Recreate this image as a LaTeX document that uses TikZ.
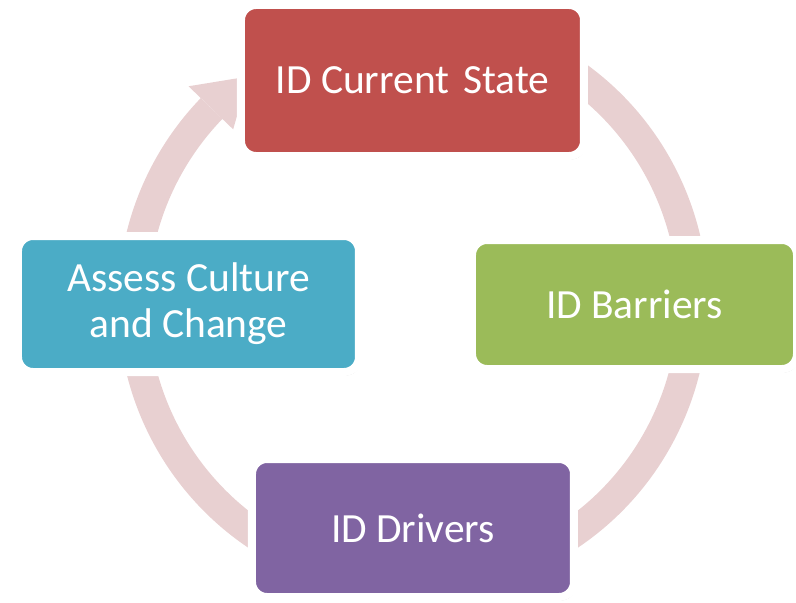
\documentclass[tikz,border=0pt]{standalone}
\usepackage{fontspec}
\setmainfont{Carlito}
\usetikzlibrary{shadows}
\definecolor{indianred}{RGB}{192,80,77}
\definecolor{olivegreen}{RGB}{155,187,89}
\definecolor{royalpurple}{RGB}{128,100,162}
\definecolor{pacificblue}{RGB}{75,172,198}
\definecolor{palepink}{RGB}{232,208,209}

\begin{document}
\begin{tikzpicture}[x=1pt, y=1pt,
	stagebox/.style={draw=white, line width=8pt, rounded corners=15pt, text=white, align=center, inner sep=0pt,
		font=\fontsize{41.5}{46}\selectfont,
		drop shadow={opacity=0.45, shadow xshift=1.5pt, shadow yshift=-3.5pt}}]
	\useasboundingbox (-413,-300) rectangle (383,303);
	\def\radius{280}
	\coordinate (tail) at (65:\radius);
	\coordinate (head) at (126:\radius);
	
	% cycle ring, tail hidden under the first stage
	\draw[line width=30pt, palepink] (tail) arc[start angle=65, end angle=-224, radius=\radius];
	\fill[palepink] (136:250) -- (136:312) -- (head) -- cycle;
	
	% stages
	\node[stagebox, fill=indianred, minimum width=343pt, minimum height=151pt] (state) at (-0.5,222.5) {ID Current\,\,State};
	\node[stagebox, fill=olivegreen, minimum width=325pt, minimum height=129pt] (barriers) at (221.5,-1.5) {ID Barriers};
	\node[stagebox, fill=royalpurple, minimum width=322pt, minimum height=138pt] (drivers) at (0,-225) {ID Drivers};
	\node[stagebox, fill=pacificblue, minimum width=341pt, minimum height=136pt] (culture) at (-224.5,-1) {Assess Culture\\and Change};
	
\end{tikzpicture}
\end{document}
